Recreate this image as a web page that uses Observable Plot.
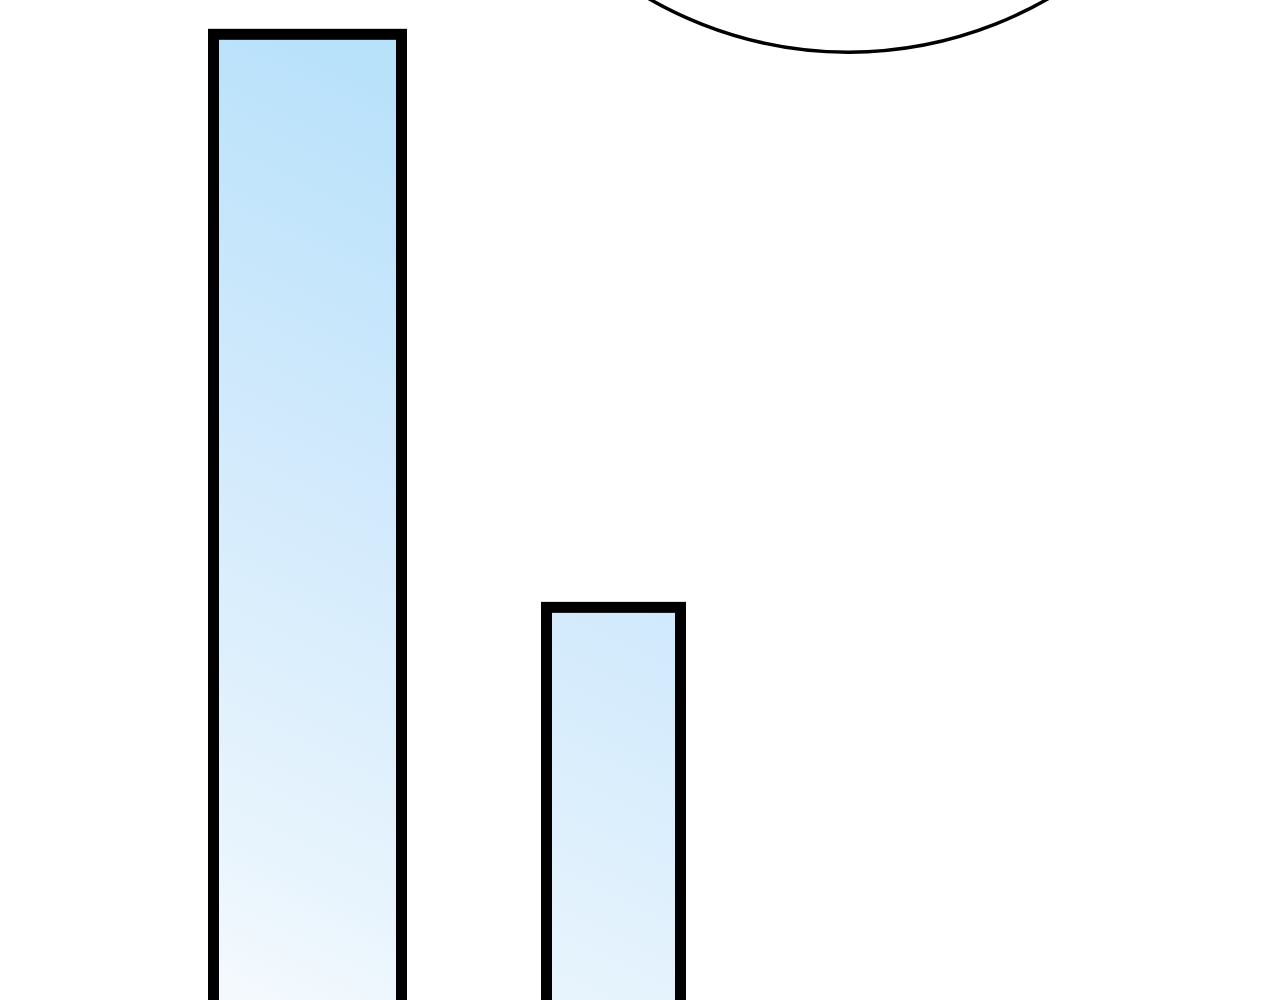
<!DOCTYPE html>
<html>
<head>
<meta charset="utf-8">
<script src="https://cdn.jsdelivr.net/npm/d3@7"></script>
<script src="https://cdn.jsdelivr.net/npm/@observablehq/plot@0.6"></script>
<style>
  html, body { margin: 0; padding: 0; background: #fff; overflow: hidden; }
  #chart svg { display: block; }
</style>
</head>
<body>
<div id="chart"></div>
<script>
// Bars: left/right edges and heights in chart units
const barNames = ["A", "B"];
const barStart = [21.35, 54.65];
const barEnd = [40.15, 68.05];
const barValues = [96.7, 41.6];

// Circle (partially above the frame)
const circleX = [84.8];
const circleY = [133.4];
const circleRadiusPx = 399;

const bars = barNames.map((name, i) => ({ name, x1: barStart[i], x2: barEnd[i], value: barValues[i] }));
const circles = circleX.map((x, i) => ({ x, y: circleY[i] }));

const gradientDefs = () => {
  const defs = d3.create("svg:defs");
  const g = defs.append("linearGradient")
    .attr("id", "barGrad")
    .attr("gradientUnits", "userSpaceOnUse")
    .attr("x1", 700).attr("y1", 0)
    .attr("x2", 200).attr("y2", 1000);
  [[0, "#b3dffa"], [0.2, "#b9e2fa"], [0.5, "#d0e9fc"], [0.85, "#e7f4fd"], [1, "#f6fafe"]]
    .forEach(([o, c]) => g.append("stop").attr("offset", o).attr("stop-color", c));
  return defs.node();
};

const chart = Plot.plot({
  width: 1280,
  height: 1000,
  margin: 0,
  x: { domain: [0, 128], range: [0, 1280], axis: null },
  y: { domain: [0, 100], range: [1040, 0], axis: null },
  marks: [
    gradientDefs,
    Plot.rectY(bars, {
      x1: "x1", x2: "x2", y1: 0, y2: "value",
      fill: "url(#barGrad)", stroke: "black", strokeWidth: 11, strokeLinejoin: "miter"
    }),
    Plot.dot(circles, {
      x: "x", y: "y", r: circleRadiusPx,
      fill: "none", stroke: "black", strokeWidth: 3.5
    })
  ]
});
document.getElementById("chart").append(chart);
</script>
</body>
</html>
